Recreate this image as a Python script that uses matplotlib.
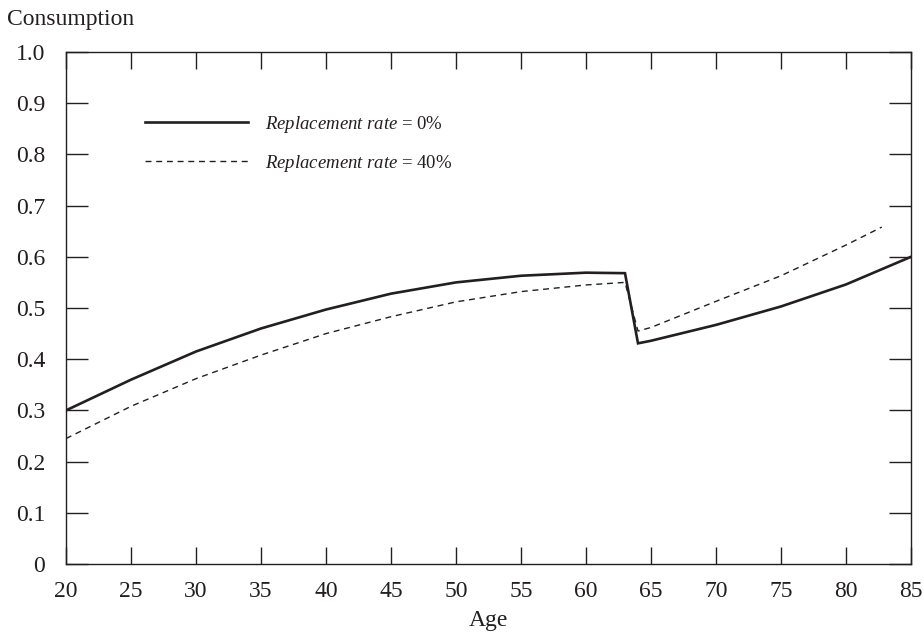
import matplotlib
matplotlib.use("Agg")
import matplotlib.pyplot as plt

# Consumption profiles over the life cycle
age_work = [20, 25, 30, 35, 40, 45, 50, 55, 60, 63]
age_ret_solid = [64, 65, 70, 75, 80, 85]
age_ret_dash = [64, 65, 70, 75, 80, 82.75]

c_rr0_work = [0.300, 0.360, 0.415, 0.460, 0.497, 0.528, 0.550, 0.563, 0.569, 0.568]
c_rr0_ret = [0.431, 0.436, 0.467, 0.503, 0.546, 0.600]

c_rr40_work = [0.245, 0.308, 0.362, 0.408, 0.450, 0.483, 0.512, 0.532, 0.545, 0.550]
c_rr40_ret = [0.455, 0.462, 0.513, 0.563, 0.623, 0.658]

x_ticks = [20, 25, 30, 35, 40, 45, 50, 55, 60, 65, 70, 75, 80, 85]
y_ticks = [0, 0.1, 0.2, 0.3, 0.4, 0.5, 0.6, 0.7, 0.8, 0.9, 1.0]
y_tick_labels = ["0", "0.1", "0.2", "0.3", "0.4", "0.5", "0.6", "0.7", "0.8", "0.9", "1.0"]

INK = "#231f20"

plt.rcParams["font.family"] = ["Liberation Serif", "DejaVu Serif"]
plt.rcParams["mathtext.fontset"] = "custom"
plt.rcParams["mathtext.rm"] = "Liberation Serif"
plt.rcParams["mathtext.it"] = "Liberation Serif:italic"
plt.rcParams["lines.scale_dashes"] = False

fig = plt.figure(figsize=(9.24, 6.42), dpi=100)
ax = fig.add_axes([66 / 924, 78 / 642, 845 / 924, 512 / 642])

ax.plot(age_work + age_ret_solid, c_rr0_work + c_rr0_ret,
        color=INK, lw=1.9, solid_joinstyle="miter",
        label=r"$\it{Replacement\ rate}$ = 0%")
ax.plot(age_work + age_ret_dash, c_rr40_work + c_rr40_ret,
        color=INK, lw=1.0, dashes=(4.3, 3.4),
        label=r"$\it{Replacement\ rate}$ = 40%")

ax.set_xlim(20, 85)
ax.set_ylim(0, 1.0)
ax.set_xticks(x_ticks)
ax.set_yticks(y_ticks)
ax.set_yticklabels(y_tick_labels)

for s in ax.spines.values():
    s.set_color(INK)
    s.set_linewidth(1.0)

ax.tick_params(axis="x", direction="in", top=True, bottom=True, length=12,
               width=1.0, color=INK, labelsize=17, pad=12, labelcolor=INK)
ax.tick_params(axis="y", direction="in", left=True, right=True, length=16,
               width=1.0, color=INK, labelsize=17, pad=15, labelcolor=INK)

ax.set_xlabel("Age", fontsize=17, color=INK, labelpad=6)
fig.text(7 / 924, 1 - 25 / 642, "Consumption", fontsize=17, color=INK,
         ha="left", va="baseline")

leg = ax.legend(loc="upper left", bbox_to_anchor=(0.085, 0.894), frameon=False,
                fontsize=13.5, handlelength=5.5, handletextpad=0.9,
                labelspacing=0.95, borderaxespad=0)
for t in leg.get_texts():
    t.set_color(INK)

fig.savefig("out.png", dpi=100)
